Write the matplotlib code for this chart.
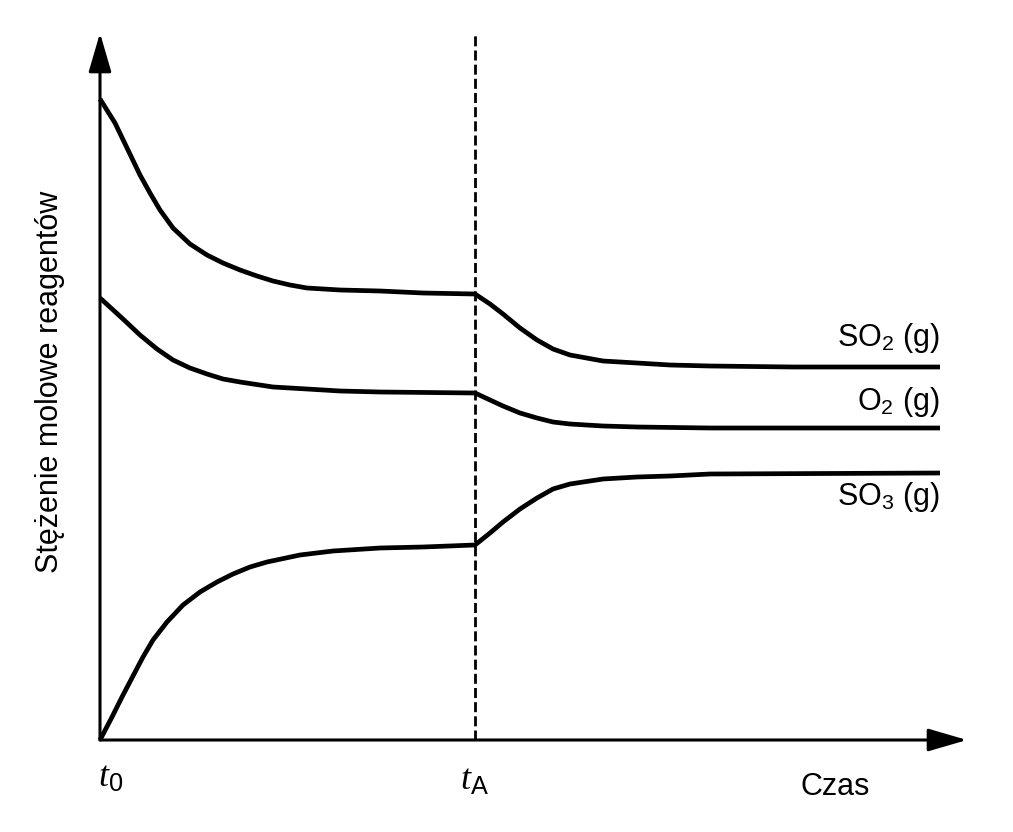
import matplotlib
matplotlib.use("Agg")
from matplotlib import pyplot as plt

plt.rcParams['font.family'] = ['Liberation Sans', 'DejaVu Sans']
plt.rcParams['mathtext.fontset'] = 'custom'
plt.rcParams['mathtext.rm'] = 'Liberation Sans'
plt.rcParams['mathtext.it'] = 'Liberation Serif:italic'

# czas (jednostki umowne), t_A = 3.75
t_A = 3.75
t_end = 8.40

so2_t = [0, 0.15, 0.28, 0.40, 0.50, 0.60, 0.73, 0.90, 1.07, 1.23, 1.40, 1.57, 1.73, 1.90, 2.07,
         2.40, 2.80, 3.23, 3.75,
         3.90, 4.03, 4.20, 4.37, 4.53, 4.70, 5.03, 5.37, 5.70, 6.10, 6.93, 8.40]
so2_c = [6.41, 6.17, 5.90, 5.65, 5.47, 5.30, 5.12, 4.96, 4.85, 4.77, 4.70, 4.64, 4.59, 4.55, 4.52,
         4.50, 4.49, 4.47, 4.46,
         4.36, 4.26, 4.12, 4.00, 3.91, 3.85, 3.79, 3.77, 3.75, 3.74, 3.73, 3.73]

o2_t = [0, 0.23, 0.40, 0.57, 0.73, 0.90, 1.07, 1.23, 1.40, 1.73, 2.07, 2.40, 2.80, 3.75,
        3.90, 4.03, 4.20, 4.37, 4.53, 4.70, 5.03, 5.37, 6.10, 8.40]
o2_c = [4.42, 4.21, 4.05, 3.91, 3.80, 3.72, 3.66, 3.61, 3.58, 3.53, 3.51, 3.49, 3.48, 3.47,
        3.40, 3.34, 3.27, 3.22, 3.18, 3.16, 3.14, 3.13, 3.12, 3.12]

so3_t = [0, 0.12, 0.22, 0.33, 0.43, 0.53, 0.67, 0.83, 1.00, 1.17, 1.33, 1.50, 1.67, 2.00, 2.33,
         2.80, 3.23, 3.75,
         3.90, 4.03, 4.20, 4.37, 4.53, 4.70, 5.03, 5.37, 5.70, 6.10, 8.40]
so3_c = [0, 0.23, 0.43, 0.64, 0.83, 1.00, 1.18, 1.35, 1.48, 1.58, 1.66, 1.73, 1.78, 1.85, 1.89,
         1.92, 1.93, 1.95,
         2.07, 2.18, 2.31, 2.42, 2.51, 2.56, 2.61, 2.63, 2.64, 2.66, 2.67]

labels = ['SO$_2$ (g)', 'O$_2$ (g)', 'SO$_3$ (g)']
label_y = [3.94, 3.30, 2.35]

fig = plt.figure(figsize=(10.13, 8.32), dpi=100)
ax = fig.add_axes([0, 0, 1, 1])
ax.set_xlim(-1.0, 9.13)
ax.set_ylim(-0.92, 7.40)
ax.axis('off')

# osie ze strzalkami
arrow = dict(arrowstyle='-|>,head_length=1.2,head_width=0.35', mutation_scale=20,
             color='black', lw=2.2, shrinkA=0, shrinkB=0)
ax.annotate('', xy=(8.67, 0), xytext=(0, 0), arrowprops=arrow)
ax.annotate('', xy=(0, 7.07), xytext=(0, 0), arrowprops=arrow)

# linia przerywana t_A
ax.plot([t_A, t_A], [0, 7.05], color='black', lw=2.0, linestyle=(0, (3.6, 1.5)))

for t, c in [(so2_t, so2_c), (o2_t, o2_c), (so3_t, so3_c)]:
    ax.plot(t, c, color='black', lw=3.4, solid_capstyle='butt', solid_joinstyle='round')

for lab, y in zip(labels, label_y):
    ax.text(t_end, y, lab, ha='right', va='baseline', fontsize=22)

ax.text(-0.02, -0.47, r'$t_\mathrm{0}$', ha='left', va='baseline', fontsize=26)
ax.text(3.60, -0.50, r'$t_\mathrm{A}$', ha='left', va='baseline', fontsize=26)
ax.text(7.00, -0.55, 'Czas', ha='left', va='baseline', fontsize=22)
ax.text(-0.5, 3.58, 'Stężenie molowe reagentów', rotation=90, ha='center', va='center', fontsize=22)

plt.savefig('out.png', dpi=100)
